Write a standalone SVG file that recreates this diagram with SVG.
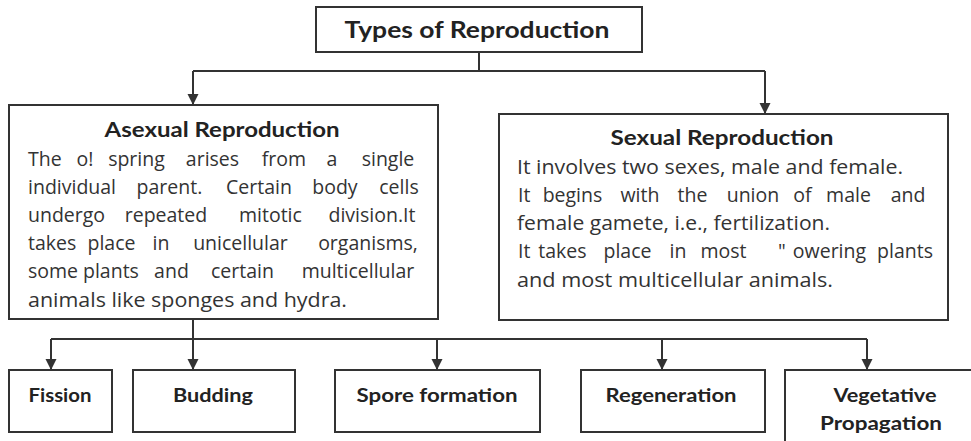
<svg xmlns="http://www.w3.org/2000/svg" width="971" height="441" viewBox="0 0 971 441">
<style>
.box{fill:#fff;stroke:#333;stroke-width:2}
.con{fill:none;stroke:#333;stroke-width:2}
.h{font-family:Lato,"Open Sans","Liberation Sans",sans-serif;font-weight:bold;fill:#222}
.b{font-family:"Open Sans",Lato,"Liberation Sans",sans-serif;font-size:19.5px;fill:#333;text-anchor:middle}
.s{text-anchor:start}
</style>
<defs>
<marker id="arr" markerUnits="userSpaceOnUse" markerWidth="12" markerHeight="12" refX="11" refY="5.5" orient="auto">
<path d="M0,0 L11,5.5 L0,11 z" fill="#333"/>
</marker>
</defs>
<rect width="971" height="441" fill="#fff"/>
<g id="connectors">
<path class="con" d="M479,52 V71"/>
<path class="con" d="M193,71 H765"/>
<path class="con" d="M193,71 V105" marker-end="url(#arr)"/>
<path class="con" d="M765,71 V114" marker-end="url(#arr)"/>
<path class="con" d="M193,319 V339"/>
<path class="con" d="M51,339 H867"/>
<path class="con" d="M51,339 V370" marker-end="url(#arr)"/>
<path class="con" d="M193,339 V370" marker-end="url(#arr)"/>
<path class="con" d="M437,339 V370" marker-end="url(#arr)"/>
<path class="con" d="M662,339 V370" marker-end="url(#arr)"/>
<path class="con" d="M867,339 V370" marker-end="url(#arr)"/>
</g>
<g id="types">
<rect class="box" x="316" y="7" width="326" height="45"/>
<text class="h" x="477" y="38" font-size="22" text-anchor="middle" textLength="265" lengthAdjust="spacingAndGlyphs">Types of Reproduction</text>
</g>
<g id="asexual">
<rect class="box" x="9" y="105" width="429" height="214"/>
<text class="h" x="222" y="137" font-size="20" text-anchor="middle" textLength="235" lengthAdjust="spacingAndGlyphs">Asexual Reproduction</text>
<text class="b" y="166"><tspan class="s" x="28">The</tspan> <tspan x="87.5">o!</tspan> <tspan x="139">spring</tspan> <tspan x="215">arises</tspan> <tspan x="286.5">from</tspan> <tspan x="334.5">a</tspan> <tspan x="388">single</tspan></text>
<text class="b" y="194"><tspan class="s" x="28">individual</tspan> <tspan x="172">parent.</tspan> <tspan x="261.5">Certain</tspan> <tspan x="337.5">body</tspan> <tspan x="399">cells</tspan></text>
<text class="b" y="222"><tspan class="s" x="28">undergo</tspan> <tspan x="168.5">repeated</tspan> <tspan x="273">mitotic</tspan> <tspan x="372">division.It</tspan></text>
<text class="b" y="250"><tspan class="s" x="28">takes</tspan> <tspan x="114">place</tspan> <tspan x="163.5">in</tspan> <tspan x="243">unicellular</tspan> <tspan x="368">organisms,</tspan></text>
<text class="b" y="278"><tspan class="s" x="28">some</tspan> <tspan x="113.5">plants</tspan> <tspan x="174">and</tspan> <tspan x="245">certain</tspan> <tspan x="358">multicellular</tspan></text>
<text class="b s" x="28" y="307" textLength="319" lengthAdjust="spacingAndGlyphs">animals like sponges and hydra.</text>
</g>
<g id="sexual">
<rect class="box" x="499" y="114" width="449" height="206"/>
<text class="h" x="722" y="145" font-size="20" text-anchor="middle" textLength="223" lengthAdjust="spacingAndGlyphs">Sexual Reproduction</text>
<text class="b s" x="517" y="174" textLength="386" lengthAdjust="spacingAndGlyphs">It involves two sexes, male and female.</text>
<text class="b" y="202"><tspan class="s" x="518">It</tspan> <tspan x="575">begins</tspan> <tspan x="642.5">with</tspan> <tspan x="695">the</tspan> <tspan x="755.5">union</tspan> <tspan x="805">of</tspan> <tspan x="851">male</tspan> <tspan x="908">and</tspan></text>
<text class="b s" x="517" y="230" textLength="313" lengthAdjust="spacingAndGlyphs">female gamete, i.e., fertilization.</text>
<text class="b" y="258"><tspan class="s" x="518">It</tspan> <tspan x="565">takes</tspan> <tspan x="630">place</tspan> <tspan x="680.5">in</tspan> <tspan x="726">most</tspan> <tspan x="784.5">"</tspan> <tspan x="832">owering</tspan> <tspan x="905">plants</tspan></text>
<text class="b s" x="517" y="287" textLength="316" lengthAdjust="spacingAndGlyphs">and most multicellular animals.</text>
</g>
<g id="fission">
<rect class="box" x="9" y="370" width="103" height="62"/>
<text class="h" x="60" y="402" font-size="18" text-anchor="middle" textLength="63" lengthAdjust="spacingAndGlyphs">Fission</text>
</g>
<g id="budding">
<rect class="box" x="133" y="370" width="162" height="62"/>
<text class="h" x="213" y="402" font-size="18" text-anchor="middle" textLength="80" lengthAdjust="spacingAndGlyphs">Budding</text>
</g>
<g id="spore">
<rect class="box" x="335" y="370" width="205" height="62"/>
<text class="h" x="437" y="402" font-size="18" text-anchor="middle" textLength="161" lengthAdjust="spacingAndGlyphs">Spore formation</text>
</g>
<g id="regeneration">
<rect class="box" x="581" y="370" width="184" height="62"/>
<text class="h" x="671" y="402" font-size="18" text-anchor="middle" textLength="131" lengthAdjust="spacingAndGlyphs">Regeneration</text>
</g>
<g id="vegetative">
<rect class="box" x="785" y="370" width="200" height="90"/>
<text class="h" x="885" y="402" font-size="18" text-anchor="middle" textLength="103" lengthAdjust="spacingAndGlyphs">Vegetative</text>
<text class="h" x="881" y="430" font-size="18" text-anchor="middle" textLength="122" lengthAdjust="spacingAndGlyphs">Propagation</text>
</g>
</svg>
